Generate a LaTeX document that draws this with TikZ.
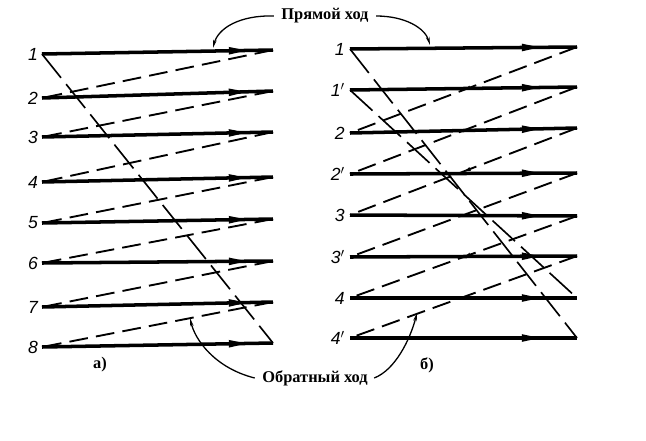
\documentclass[tikz,border=0pt]{standalone}
\usepackage{fontspec}
\setmainfont{Liberation Serif}
\newfontfamily\chiffres{Liberation Sans}
\usetikzlibrary{arrows.meta,decorations.markings}

\tikzset{
  trait/.style={line width=3pt, postaction={decorate},
    decoration={markings, mark=at position #1 with {\arrow{Triangle[length=18pt,width=5.5pt]}}}},
  retour/.style={line width=1.6pt, dash pattern=on 16pt off 7pt},
  repere/.style={postaction={decorate},
    decoration={markings, mark=at position 0.5 with {\arrow{Latex[length=6pt,width=3.5pt]}}}},
  diag/.style={line width=1.4pt, dash pattern=on 26pt off 7pt},
  renvoi/.style={line width=1.1pt, -{Stealth[length=7pt,width=3pt]}},
  num/.style={left, font=\chiffres\itshape\fontsize{15}{15}\selectfont},
  titre/.style={font=\bfseries\fontsize{14}{16}\selectfont}
}

\begin{document}
\begin{tikzpicture}[x=0.03cm, y=-0.03cm]
  \useasboundingbox (0,0) rectangle (646,440);
  % partie gauche
  \foreach \i/\yg/\yd in {1/54/50,2/98/91,3/137/132,4/182/177,5/223/219,6/263/261,7/307/302,8/347/343}{
    \coordinate (aG\i) at (42,\yg);
    \coordinate (aD\i) at (273,\yd);
    \draw[trait=0.9] (aG\i) -- (aD\i);
    \node[num] (na\i) at (aG\i) {\i};
  }
  \foreach \i [count=\j from 2] in {1,...,7} \draw[retour] (aD\i) -- (aG\j);
  \draw[diag] (aG1) -- (aD8);
  \node[titre] (la) at (100,365) {а)};
  % partie droite
  \foreach \i/\t/\yg/\yd in {1/1/49/47,2/1$'$/90/87,3/2/133/128,4/2$'$/174/173,5/3/215/216,6/3$'$/257/256,7/4/298/298,8/4$'$/338/338}{
    \coordinate (bG\i) at (350,\yg);
    \coordinate (bD\i) at (577,\yd);
    \draw[trait=0.85] (bG\i) -- (bD\i);
    \node[num, xshift=-1pt] (nb\i) at (bG\i) {\t};
  }
  \foreach \i/\j in {1/3,3/5,5/7} \draw[retour, repere] (bD\i) -- (bG\j);
  \foreach \i/\j in {2/4,4/6,6/8} \draw[retour] (bD\i) -- (bG\j);
  \draw[diag] (bG1) -- (bD8);
  \draw[diag] (bG2) -- (bD7);
  \node[titre] (lb) at (427,365) {б)};
  % renvois
  \node[titre] (pr) at (325,16) {Прямой ход};
  \node[titre] (ob) at (315,378) {Обратный ход};
  \coordinate (pa) at (213,48);
  \coordinate (pb) at (430,45);
  \coordinate (oa) at (190,318);
  \coordinate (ob2) at (417,313);
  \draw[renvoi] ([xshift=-3pt]pr.west) .. controls (240,15) and (218,28) .. (pa);
  \draw[renvoi] ([xshift=3pt]pr.east) .. controls (405,16) and (425,28) .. (pb);
  \draw[renvoi] ([xshift=-3pt]ob.west) .. controls (215,368) and (195,340) .. (oa);
  \draw[renvoi] ([xshift=2pt]ob.east) .. controls (395,370) and (410,340) .. (ob2);
\end{tikzpicture}
\end{document}
